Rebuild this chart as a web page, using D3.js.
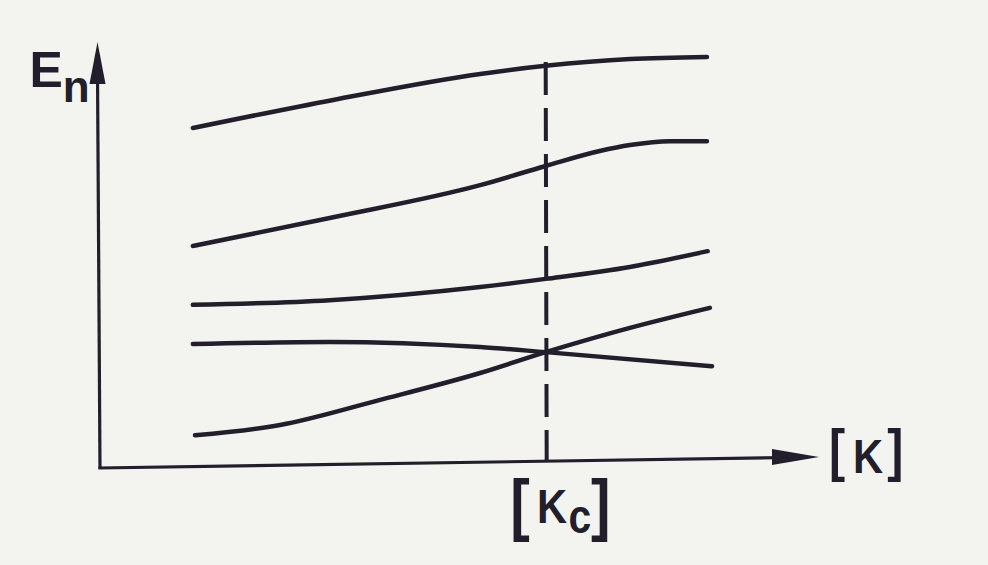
<!DOCTYPE html>
<html>
<head>
<meta charset="utf-8">
<script src="https://cdn.jsdelivr.net/npm/d3@7"></script>
<style>
  html, body { margin: 0; padding: 0; background: #f3f4ef; }
  svg { display: block; }
</style>
</head>
<body>
<svg id="chart" width="988" height="565"></svg>
<script>
// ---- data (arbitrary units) ----
const Kc = 6.19;
const curve1K = [1.29, 3.24, 5.28, 6.19, 7.36, 8.43];
const curve1E = [7.98, 8.64, 9.25, 9.44, 9.60, 9.65];
const curve2K = [1.29, 3.19, 5.28, 6.19, 6.94, 7.36, 7.92, 8.43];
const curve2E = [5.21, 5.87, 6.64, 7.09, 7.44, 7.58, 7.67, 7.67];
const curve3K = [1.29, 3.19, 5.28, 6.19, 7.36, 8.44];
const curve3E = [3.83, 3.94, 4.25, 4.44, 4.72, 5.09];
const curve4K = [1.29, 3.19, 5.28, 6.19, 8.50];
const curve4E = [2.91, 2.96, 2.84, 2.72, 2.39];
const curve5K = [1.32, 2.50, 3.89, 5.28, 6.19, 7.36, 8.47];
const curve5E = [0.77, 1.01, 1.60, 2.23, 2.72, 3.29, 3.76];
const series = [
  [curve1K, curve1E], [curve2K, curve2E], [curve3K, curve3E],
  [curve4K, curve4E], [curve5K, curve5E]
];

// ---- layout ----
const ink = "#221e2b";
const svg = d3.select("#chart");
const x = d3.scaleLinear().domain([0, 10]).range([100, 820]);
const y = d3.scaleLinear().domain([0, 10]).range([468, 42]);
const tilt = 11; // slight slant of the scanned x axis

// axes
const yAxisTop = y(10), origin = [x(0), y(0)];
svg.append("line")
  .attr("x1", origin[0]).attr("y1", origin[1] + 1)
  .attr("x2", origin[0] - 2.5).attr("y2", yAxisTop + 30)
  .attr("stroke", ink).attr("stroke-width", 3.2);
svg.append("path")
  .attr("d", `M${origin[0]-2.5},${yAxisTop} L${origin[0]-10.5},${yAxisTop+42} L${origin[0]+5.5},${yAxisTop+42} Z`)
  .attr("fill", ink);

const xTip = [x(10) - 1, y(0) - tilt];
svg.append("line")
  .attr("x1", origin[0] - 1.5).attr("y1", origin[1])
  .attr("x2", xTip[0] - 30).attr("y2", xTip[1] + 0.5)
  .attr("stroke", ink).attr("stroke-width", 3.2);
svg.append("path")
  .attr("d", `M${xTip[0]},${xTip[1]} L${xTip[0]-47},${xTip[1]-8} L${xTip[0]-47},${xTip[1]+8} Z`)
  .attr("fill", ink);

// dashed critical line
svg.append("line")
  .attr("x1", x(Kc)).attr("y1", 62)
  .attr("x2", x(Kc) + 1).attr("y2", y(0) - 7)
  .attr("stroke", ink).attr("stroke-width", 4)
  .attr("stroke-dasharray", "33 13");

// curves
const line = d3.line()
  .x(d => x(d[0])).y(d => y(d[1]))
  .curve(d3.curveMonotoneX);
svg.selectAll("path.curve")
  .data(series.map(([ks, es]) => ks.map((k, i) => [k, es[i]])))
  .join("path")
  .attr("class", "curve")
  .attr("d", line)
  .attr("fill", "none")
  .attr("stroke", ink)
  .attr("stroke-width", 4.5)
  .attr("stroke-linecap", "round");

// labels: one text element per label, glyphs flow as tspans
const font = "'Liberation Sans', Arial, sans-serif";
function label(x0, y0, sx, parts) {
  const t = svg.append("text")
    .attr("transform", `translate(${x0},${y0}) scale(${sx},1)`)
    .attr("x", 0).attr("y", 0)
    .attr("font-family", font).attr("font-weight", "bold")
    .attr("fill", ink);
  parts.forEach(p => {
    t.append("tspan")
      .attr("dx", p.dx || 0).attr("dy", p.dy || 0)
      .attr("font-size", p.size)
      .text(p.t);
  });
  return t;
}
// E_n
label(29.5, 87, 1, [
  { t: "E", size: 50 },
  { t: "n", size: 44, dy: 15 }
]);
// [K]
label(829, 470, 0.85, [
  { t: "[", size: 57 },
  { t: "K", size: 49, dx: 9.4, dy: 3 },
  { t: "]", size: 57, dx: 4.7, dy: -3 }
]);
// [Kc]
label(510.3, 527.5, 0.85, [
  { t: "[", size: 69 },
  { t: "K", size: 49, dx: 8.3, dy: -4.5 },
  { t: "c", size: 48, dx: 1.7, dy: 10 },
  { t: "]", size: 69, dy: -5.5 }
]);
</script>
</body>
</html>
